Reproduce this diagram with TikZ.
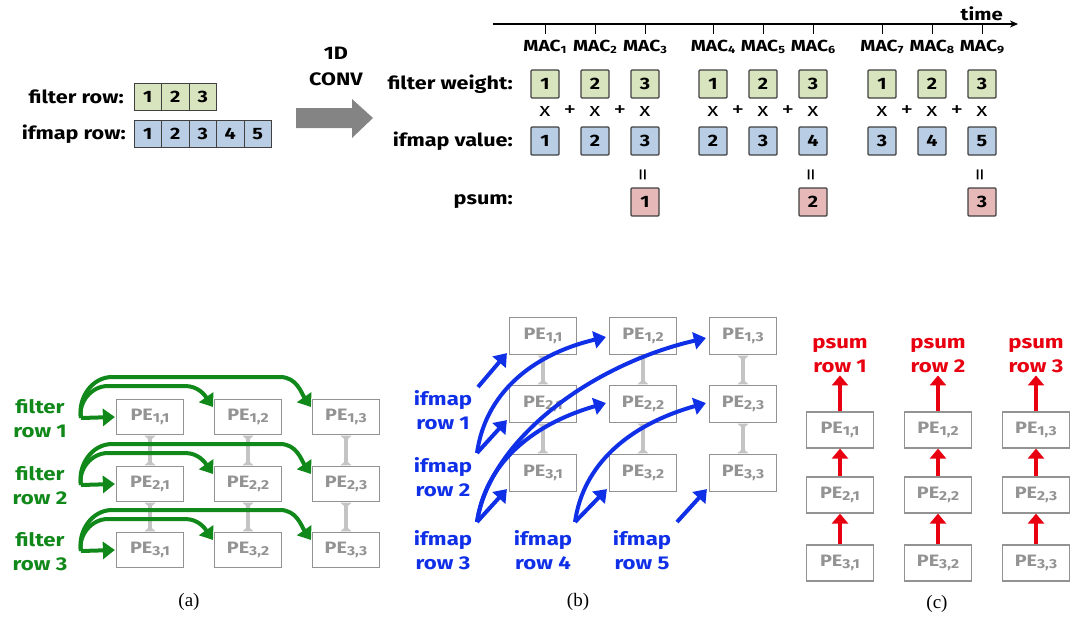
\documentclass[tikz,border=0pt]{standalone}
\usepackage{fontspec}
\setmainfont{Fira Sans}[FakeStretch=1.2]
\newfontfamily\capfont{Liberation Serif}
\usetikzlibrary{arrows.meta}
\definecolor{fgreen}{HTML}{D7E4BD}
\definecolor{fblue}{HTML}{B9CDE5}
\definecolor{fpink}{HTML}{E6B9B8}
\definecolor{agreen}{HTML}{11881A}
\definecolor{ablue}{HTML}{1030E8}
\definecolor{ared}{HTML}{E80010}
\definecolor{pegray}{HTML}{939393}
\definecolor{linkgray}{HTML}{C4C4C4}
\definecolor{bigarrow}{HTML}{848484}
\newcommand{\pelab}[2]{PE\raisebox{-2pt}{\fontsize{13}{13}\selectfont#1,#2}}
\newcommand{\maclab}[1]{MAC\raisebox{-2.5pt}{\fontsize{10.5}{10.5}\selectfont#1}}
\tikzset{
  cell/.style={draw=black!75, line width=1pt, minimum width=27.5pt, minimum height=27pt, inner sep=0pt, font=\bfseries\fontsize{16.5}{16.5}\selectfont},
  sq/.style={draw=black!75, line width=1.2pt, rounded corners=1pt, minimum width=28pt, minimum height=28pt, inner sep=0pt, font=\bfseries\fontsize{16.5}{16.5}\selectfont},
  lab/.style={font=\bfseries\fontsize{18}{18}\selectfont, inner sep=0pt},
  maclabel/.style={font=\bfseries\fontsize{16}{16}\selectfont, inner sep=0pt},
  op/.style={font=\fontsize{19}{19}\selectfont, inner sep=0pt},
  plus/.style={font=\fontsize{21}{21}\selectfont, inner sep=0pt},
  pe/.style={draw=pegray, fill=white, line width=1.2pt, minimum width=67pt, minimum height=36pt, inner sep=0pt, text=pegray, font=\bfseries\fontsize{16.5}{16.5}\selectfont},
  link/.style={draw=linkgray, line width=3.5pt, {Triangle[reversed,length=5pt,width=11pt]}-{Triangle[reversed,length=5pt,width=11pt]}, shorten <=0.5pt, shorten >=0.5pt},
  garrow/.style={draw=agreen, line width=4pt, -{Triangle[length=12pt,width=17pt]}},
  barrow/.style={draw=ablue, line width=4pt, -{Triangle[length=12pt,width=17pt]}},
  rarrow/.style={draw=ared, line width=4pt, -{Triangle[length=10pt,width=16pt]}},
  clab/.style={font=\bfseries\fontsize{18.5}{24}\selectfont, align=center, inner sep=0pt},
  caption/.style={font=\capfont\fontsize{19}{19}\selectfont, inner sep=0pt}
}
\begin{document}
\begin{tikzpicture}[x=1pt,y=-1pt]
\useasboundingbox (0,0) rectangle (1074,622);
% ---------- top left ----------
\node[lab, anchor=east] (frl) at (124,97) {filter row:};
\node[lab, anchor=east] (irl) at (126,134) {ifmap row:};
\foreach \i/\x in {1/147.75,2/175.25,3/202.75}
  \node[cell, fill=fgreen] (fr\i) at (\x,97) {\i};
\foreach \i/\x in {1/147.75,2/175.25,3/202.75,4/230.25,5/257.75}
  \node[cell, fill=fblue] (ir\i) at (\x,134) {\i};
% big arrow
\fill[bigarrow] (296,108) -- (352,108) -- (352,99) -- (373,118) -- (352,138) -- (352,128) -- (296,128) -- cycle;
\node[lab] (oned) at (336,53) {1D};
\node[lab] (conv) at (336,79) {CONV};
% ---------- time axis ----------
\coordinate (t0) at (493,24);
\coordinate (t1) at (1018,24);
\draw[line width=1.2pt, -{Stealth[length=8pt,width=7pt]}] (t0) -- (t1);
\node[lab, anchor=base east, font=\bfseries\fontsize{17}{17}\selectfont] (time) at (1003,20) {time};
\foreach \k/\x in {1/545,2/595,3/645,4/713,5/763,6/813,7/882,8/932,9/982}{
  \draw[line width=1pt] (\x,24) -- (\x,34);
  \node[maclabel] (mac\k) at (\x,47) {\maclab{\k}};
}
\node[lab, anchor=east] (fwl) at (513,84) {filter weight:};
\node[lab, anchor=east] (ivl) at (513,141) {ifmap value:};
\node[lab, anchor=east] (psl) at (513,202) {psum:};
\foreach \k/\x/\f/\v in {1/545/1/1,2/595/2/2,3/645/3/3,4/713/1/2,5/763/2/3,6/813/3/4,7/882/1/3,8/932/2/4,9/982/3/5}{
  \node[sq, fill=fgreen] (fw\k) at (\x,84) {\f};
  \node[sq, fill=fblue] (iv\k) at (\x,141) {\v};
  \node[op] (x\k) at (\x,111) {x};
}
\foreach \x in {570,620,738,788,907,957}
  \node[plus] at (\x,111) {+};
\foreach \k/\x/\p in {3/645/1,6/813/2,9/982/3}{
  \node[op, rotate=90, font=\fontsize{22}{22}\selectfont] (eq\k) at (\x,175) {=};
  \node[sq, fill=fpink] (ps\k) at (\x,202) {\p};
}
% ---------- (a) ----------
\foreach \r/\y in {1/417,2/484,3/550}
  \foreach \c/\x in {1/150,2/248,3/346}
    \node[pe, minimum height=35pt] (a\r\c) at (\x,\y) {\pelab{\r}{\c}};
\foreach \c in {1,2,3}{
  \draw[link] (a1\c.south) -- (a2\c.north);
  \draw[link] (a2\c.south) -- (a3\c.north);
}
\foreach \r/\y in {1/417,2/484,3/550}{
  \node[clab, text=agreen] (fl\r) at (40,\y+2) {filter\\row \r};
  \coordinate (gs\r) at (81,\y+1);
  \coordinate (gt\r2) at (213,\y-10);
  \coordinate (gt\r3) at (311,\y-10);
  \draw[garrow] (gs\r) to[out=100,in=180] (108,\y-31) -- (185,\y-31) to[out=0,in=125] (gt\r2);
  \draw[garrow] (gs\r) to[out=100,in=180] (112,\y-40) -- (280,\y-40) to[out=0,in=125] (gt\r3);
  \draw[garrow] (gs\r) -- ([xshift=-1pt]a\r1.west);
}
\node[caption] (capa) at (189,602) {(a)};
% ---------- (b) ----------
\foreach \r/\y in {1/336,2/404,3/473}
  \foreach \c/\x in {1/543,2/643,3/743}
    \node[pe, minimum height=37pt] (b\r\c) at (\x,\y) {\pelab{\r}{\c}};
\foreach \c in {1,2,3}{
  \draw[link] (b1\c.south) -- (b2\c.north);
  \draw[link] (b2\c.south) -- (b3\c.north);
}
\node[clab, text=ablue] (il1) at (443,410) {ifmap\\row 1};
\node[clab, text=ablue] (il2) at (443,477) {ifmap\\row 2};
\node[clab, text=ablue] (il3) at (443,550) {ifmap\\row 3};
\node[clab, text=ablue] (il4) at (543,550) {ifmap\\row 4};
\node[clab, text=ablue] (il5) at (642,550) {ifmap\\row 5};
\coordinate (bs1) at (478,387);
\coordinate (bs2) at (477,453);
\coordinate (bs3) at (477,522);
\coordinate (bs4) at (575,522);
\coordinate (bs5) at (677,522);
\draw[barrow] (bs1) -- ([shift={(-2pt,2pt)}]b11.south west);
\draw[barrow] (bs2) -- ([shift={(-2pt,3pt)}]b21.south west);
\draw[barrow] (bs2) .. controls (485,395) and (530,355) .. ([shift={(-3pt,-1pt)}]b12.west);
\draw[barrow] (bs3) -- ([shift={(-2pt,3pt)}]b31.south west);
\draw[barrow] (bs3) .. controls (485,465) and (530,425) .. ([shift={(-3pt,1pt)}]b22.west);
\draw[barrow] (bs3) .. controls (490,440) and (590,365) .. ([shift={(-3pt,-2pt)}]b13.west);
\draw[barrow] (bs4) -- ([shift={(-2pt,3pt)}]b32.south west);
\draw[barrow] (bs4) .. controls (583,465) and (628,425) .. ([shift={(-3pt,1pt)}]b23.west);
\draw[barrow] (bs5) -- ([shift={(-2pt,3pt)}]b33.south west);
\node[caption] (capb) at (578,602) {(b)};
% ---------- (c) ----------
\foreach \r/\y in {1/430,2/495,3/563}
  \foreach \c/\x in {1/840,2/938,3/1036}
    \node[pe, minimum height=36pt] (c\r\c) at (\x,\y) {\pelab{\r}{\c}};
\foreach \c/\x in {1/840,2/938,3/1036}{
  \node[clab, text=ared] (pl\c) at (\x,356) {psum\\row \c};
  \draw[rarrow] (c1\c.north) -- ([yshift=-2pt]pl\c.south);
  \draw[rarrow] (c2\c.north) -- (c1\c.south);
  \draw[rarrow] (c3\c.north) -- (c2\c.south);
}
\node[caption] (capc) at (937,604) {(c)};
\end{tikzpicture}
\end{document}
